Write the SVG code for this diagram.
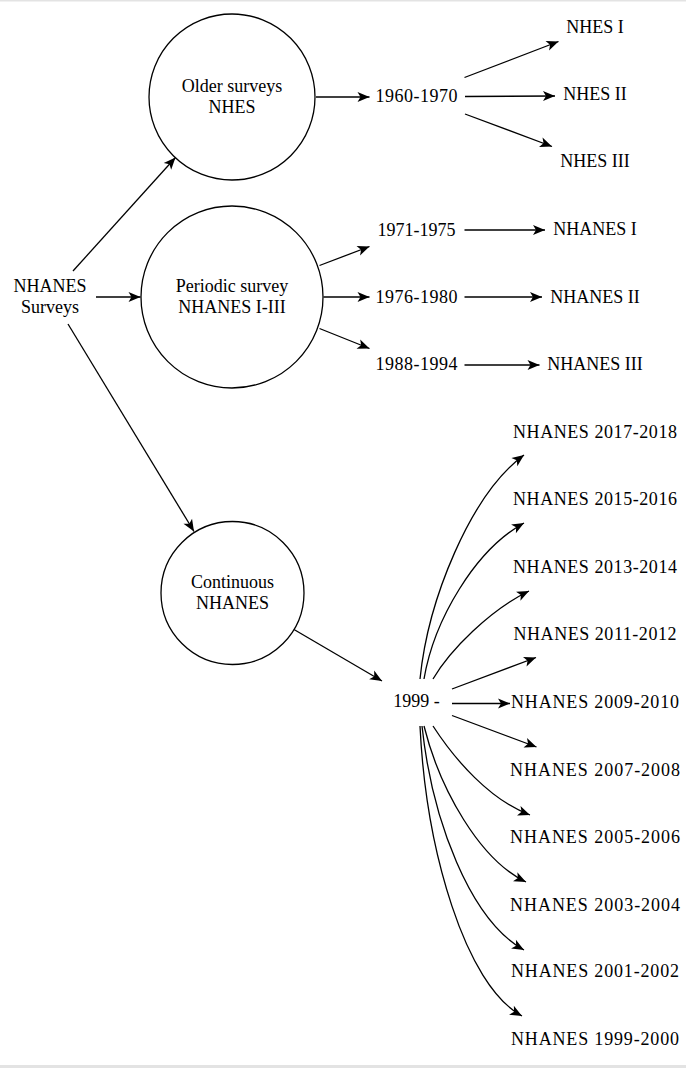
<svg xmlns="http://www.w3.org/2000/svg" width="686" height="1068" viewBox="0 0 686 1068">
<style>
  .node circle { fill: #ffffff; stroke: #000000; stroke-width: 1.3; }
  text { font-family: "Liberation Serif", "Times New Roman", serif; font-size: 18px; fill: #000000; text-anchor: middle; }
  .edges path, .edges line { fill: none; stroke: #000000; stroke-width: 1.3; marker-end: url(#arrow); }
</style>
<defs>
  <marker id="arrow" markerUnits="userSpaceOnUse" markerWidth="14" markerHeight="12" refX="12" refY="6" orient="auto" overflow="visible">
    <path d="M0,1 L12,6 L0,11 L3,6 Z" fill="#000000" stroke="none"/>
  </marker>
</defs>
<rect x="0" y="0" width="686" height="1068" fill="#ffffff"/>
<rect x="0" y="0" width="686" height="1.5" fill="#e3e3e3"/>
<rect x="0" y="1065" width="686" height="3" fill="#e3e3e3"/>

<g class="edges" id="connectors">
  <line x1="73" y1="271" x2="175.5" y2="157.5"/>
  <line x1="96" y1="297" x2="140.5" y2="297"/>
  <line x1="68" y1="324" x2="194" y2="531.5"/>
  <line x1="316" y1="97" x2="369.5" y2="97"/>
  <line x1="464.5" y1="77.5" x2="558.5" y2="41.5"/>
  <line x1="465" y1="96.5" x2="555" y2="96"/>
  <line x1="465" y1="114" x2="552" y2="146.5"/>
  <line x1="319.5" y1="265.5" x2="369.5" y2="246.5"/>
  <line x1="323.5" y1="297" x2="369.5" y2="297"/>
  <line x1="319.5" y1="328.5" x2="369.5" y2="348.5"/>
  <line x1="464.5" y1="230" x2="545" y2="230"/>
  <line x1="464.5" y1="297" x2="542" y2="297"/>
  <line x1="464.5" y1="365" x2="539.5" y2="365"/>
  <line x1="294" y1="629.5" x2="382" y2="681"/>
  <path d="M420,679 C428,600 470,495 524,455"/>
  <path d="M424,679 C434,620 475,550 524,523"/>
  <path d="M433,679 C450,650 490,610 529,591"/>
  <line x1="452" y1="689" x2="536" y2="657.5"/>
  <line x1="452" y1="703.5" x2="510" y2="703.5"/>
  <line x1="452" y1="715.5" x2="536.5" y2="747"/>
  <path d="M433,726 C455,760 490,800 530,815"/>
  <path d="M424,726 C440,790 480,860 526,882"/>
  <path d="M422,726 C432,820 470,920 524,950"/>
  <path d="M420,726 C426,850 465,985 522,1016"/>
</g>

<g id="nhanes-surveys" class="node">
  <text x="50" y="292">NHANES</text>
  <text x="50" y="313">Surveys</text>
</g>
<g id="older-surveys" class="node">
  <circle cx="232" cy="97" r="83"/>
  <text x="232" y="92">Older surveys</text>
  <text x="232" y="113">NHES</text>
</g>
<g id="periodic-survey" class="node">
  <circle cx="232" cy="297" r="91"/>
  <text x="232" y="292">Periodic survey</text>
  <text x="232" y="313">NHANES I-III</text>
</g>
<g id="continuous-nhanes" class="node">
  <circle cx="232.5" cy="593" r="71.5"/>
  <text x="232.5" y="588">Continuous</text>
  <text x="232.5" y="608.5">NHANES</text>
</g>

<g id="y1960-1970" class="node"><text x="416.5" y="102" textLength="82">1960-1970</text></g>
<g id="nhes-1" class="node"><text x="595" y="33">NHES I</text></g>
<g id="nhes-2" class="node"><text x="595" y="100">NHES II</text></g>
<g id="nhes-3" class="node"><text x="595" y="167">NHES III</text></g>

<g id="y1971-1975" class="node"><text x="416.5" y="236" textLength="78">1971-1975</text></g>
<g id="y1976-1980" class="node"><text x="416.5" y="302.5" textLength="82">1976-1980</text></g>
<g id="y1988-1994" class="node"><text x="416.5" y="370" textLength="82">1988-1994</text></g>
<g id="nhanes-1" class="node"><text x="595" y="235">NHANES I</text></g>
<g id="nhanes-2" class="node"><text x="595" y="302.5">NHANES II</text></g>
<g id="nhanes-3" class="node"><text x="595" y="369.5">NHANES III</text></g>

<g id="y1999" class="node"><text x="416.5" y="707">1999 -</text></g>
<g id="n2017" class="node"><text x="595" y="437.5" textLength="164">NHANES 2017-2018</text></g>
<g id="n2015" class="node"><text x="595" y="505" textLength="164">NHANES 2015-2016</text></g>
<g id="n2013" class="node"><text x="595" y="573" textLength="164">NHANES 2013-2014</text></g>
<g id="n2011" class="node"><text x="595" y="640" textLength="163">NHANES 2011-2012</text></g>
<g id="n2009" class="node"><text x="595" y="707.5" textLength="168">NHANES 2009-2010</text></g>
<g id="n2007" class="node"><text x="595" y="776" textLength="170">NHANES 2007-2008</text></g>
<g id="n2005" class="node"><text x="595" y="843" textLength="170">NHANES 2005-2006</text></g>
<g id="n2003" class="node"><text x="595" y="910.5" textLength="170">NHANES 2003-2004</text></g>
<g id="n2001" class="node"><text x="595" y="977" textLength="168">NHANES 2001-2002</text></g>
<g id="n1999" class="node"><text x="595" y="1045" textLength="168">NHANES 1999-2000</text></g>
</svg>
